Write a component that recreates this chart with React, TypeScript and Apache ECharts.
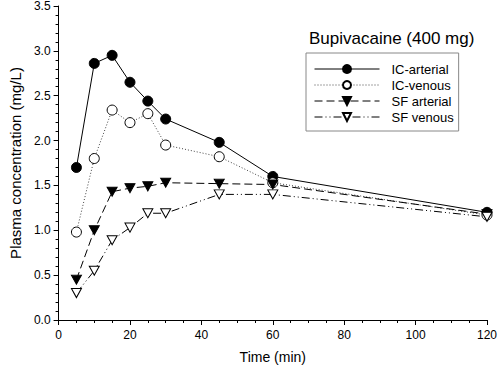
import React, { useEffect, useRef } from "react";
import * as echarts from "echarts";

const times = [5, 10, 15, 20, 25, 30, 45, 60, 120];
const icArterial = [1.7, 2.86, 2.95, 2.65, 2.44, 2.24, 1.98, 1.6, 1.2];
const icVenous = [0.98, 1.8, 2.34, 2.2, 2.3, 1.95, 1.82, 1.53, 1.17];
const sfArterial = [0.45, 1.0, 1.43, 1.47, 1.49, 1.53, 1.52, 1.51, 1.18];
const sfVenous = [0.3, 0.55, 0.89, 1.03, 1.19, 1.19, 1.4, 1.4, 1.15];
const seriesNames = ["IC-arterial", "IC-venous", "SF arterial", "SF venous"];
const titleText = "Bupivacaine (400 mg)";
const xName = "Time (min)";
const yName = "Plasma concentration (mg/L)";

const FONT = "Liberation Sans, Arial, sans-serif";
const TRI_DOWN = "path://M0,0 L10,0 L5,9 Z";

function pairs(vals: number[]) {
  return times.map((t, i) => [t, vals[i]]);
}

export default function App() {
  const ref = useRef<HTMLDivElement>(null);
  useEffect(() => {
    if (!ref.current) return;
    const chart = echarts.init(ref.current, null, { renderer: "svg" });
    const mk = (
      name: string,
      vals: number[],
      symbol: string,
      size: any,
      filled: boolean,
      lineType: any,
      lineColor: string
    ) => ({
      name,
      type: "line",
      data: pairs(vals),
      symbol,
      symbolSize: size,
      showAllSymbol: true,
      lineStyle: { color: lineColor, width: 1, type: lineType },
      itemStyle: {
        color: filled ? "#000" : "#fff",
        borderColor: "#000",
        borderWidth: 1,
      },
      emphasis: { disabled: true },
    });
    chart.setOption({
      animation: false,
      backgroundColor: "#fff",
      textStyle: { fontFamily: FONT },
      title: {
        text: titleText,
        left: 304,
        top: 25,
        textStyle: { fontSize: 17, fontWeight: "normal", color: "#000", fontFamily: FONT },
      },
      legend: {
        orient: "vertical",
        left: 306,
        top: 53,
        padding: [8, 5, 6, 8],
        itemWidth: 65,
        itemHeight: 10,
        itemGap: 0,
        borderColor: "#888",
        borderWidth: 1,
        lineStyle: { width: 1 },
        textStyle: { fontSize: 13, color: "#000", lineHeight: 16, fontFamily: FONT, padding: [0, 0, 0, 7] },
        data: seriesNames,
      },
      grid: { left: 53, right: 10, top: 5, bottom: 52, containLabel: false },
      xAxis: {
        type: "value",
        min: 0,
        max: 120,
        interval: 20,
        name: xName,
        nameLocation: "middle",
        nameGap: 30,
        nameTextStyle: { fontSize: 14, color: "#000", fontFamily: FONT },
        axisLine: { lineStyle: { color: "#000", width: 1 } },
        axisTick: { length: 5, lineStyle: { color: "#000" } },
        minorTick: { show: true, splitNumber: 4, length: 3, lineStyle: { color: "#000" } },
        axisLabel: { fontSize: 12, color: "#000", margin: 9, fontFamily: FONT },
        splitLine: { show: false },
      },
      yAxis: {
        type: "value",
        min: 0,
        max: 3.5,
        interval: 0.5,
        name: yName,
        nameLocation: "middle",
        nameGap: 34,
        nameTextStyle: { fontSize: 15, color: "#000", fontFamily: FONT },
        axisLine: { show: true, lineStyle: { color: "#000", width: 1 } },
        axisTick: { show: true, length: 5, lineStyle: { color: "#000" } },
        minorTick: { show: true, splitNumber: 5, length: 3, lineStyle: { color: "#000" } },
        axisLabel: {
          fontSize: 12,
          color: "#000",
          margin: 8,
          fontFamily: FONT,
          formatter: (v: number) => v.toFixed(1),
        },
        splitLine: { show: false },
      },
      series: [
        mk(seriesNames[0], icArterial, "circle", 10, true, "solid", "#000"),
        mk(seriesNames[1], icVenous, "circle", 10, false, [1, 2], "#444"),
        mk(seriesNames[2], sfArterial, TRI_DOWN, [10, 9], true, [8, 4], "#000"),
        mk(seriesNames[3], sfVenous, TRI_DOWN, [10, 9], false, [8, 3, 1, 3, 1, 3], "#000"),
      ],
    });
    return () => chart.dispose();
  }, []);
  return (
    <div
      ref={ref}
      style={{ position: "fixed", left: 0, top: 0, width: 500, height: 372 }}
    />
  );
}
